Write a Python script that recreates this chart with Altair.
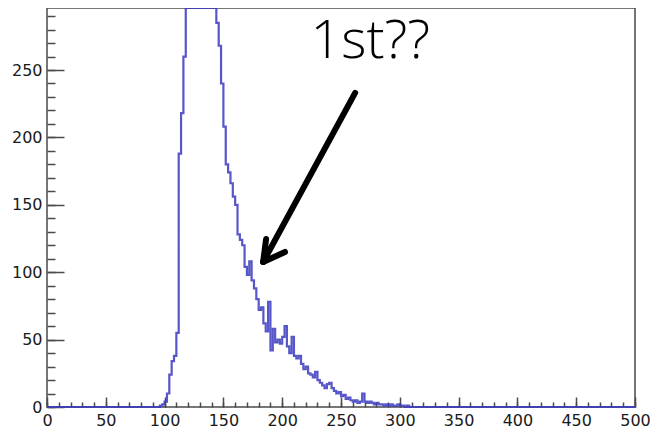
import altair as alt
import numpy as np
import pandas as pd

# ---- data ----
BIN_WIDTH = 2
X_RANGE = [0, 500]
Y_RANGE = [0, 296]
FIRST_BIN = 96
counts = [1, 2, 4, 10, 24, 34, 38, 55, 188, 218, 260,
          340, 400, 460, 500, 520, 530, 520, 500, 470, 430, 390, 350, 310,
          285, 268, 240, 208, 180, 174, 166, 156, 150, 128, 124, 120,
          104, 98, 108, 94, 88, 80, 72, 74, 62, 56, 78, 42, 58, 48,
          50, 47, 52, 60, 45, 40, 52, 38, 36, 38, 32, 28, 30, 25,
          24, 22, 26, 20, 18, 16, 14, 17, 18, 14, 12, 10, 11, 8,
          9, 6, 7, 5, 4, 5, 3, 4, 10, 4, 3, 4, 3, 2, 3, 2,
          2, 1, 2, 1, 2, 1, 1, 2, 1, 1, 0, 1]

x_major_ticks = list(range(0, 501, 50))
x_minor_ticks = list(range(0, 501, 10))
y_major_ticks = list(range(0, 251, 50))
y_minor_ticks = list(range(0, 291, 10))

annot_text = "1st??"
annot_text_pos = [224.0, 259.0]
# arrow segments in data coordinates: shaft, two head arms
arrow_x = [262.0, 183.8, 183.8]
arrow_y = [233.0, 107.6, 107.6]
arrow_x2 = [183.8, 186.3, 202.4]
arrow_y2 = [107.6, 124.6, 115.0]

# ---- build tables ----
edges = np.arange(X_RANGE[0], X_RANGE[1] + BIN_WIDTH, BIN_WIDTH)
vals = np.zeros(len(edges))
start = (FIRST_BIN - X_RANGE[0]) // BIN_WIDTH
vals[start:start + len(counts)] = counts
hist_df = pd.DataFrame({"x": edges, "count": vals})

arrow_df = pd.DataFrame({"x": arrow_x, "y": arrow_y, "x2": arrow_x2, "y2": arrow_y2})
text_df = pd.DataFrame({"x": [annot_text_pos[0]], "y": [annot_text_pos[1]], "t": [annot_text]})

W, H = 588, 399
LABEL_FONT = "DejaVu Sans"
TICK_COLOR = "#4a4a4a"

xs = alt.Scale(domain=X_RANGE, nice=False, zero=False)
ys = alt.Scale(domain=Y_RANGE, nice=False, clamp=True)

x_major = alt.Axis(orient="bottom", values=x_major_ticks, tickSize=10, offset=-10,
                   domain=False, grid=False, labelPadding=5, labelFont=LABEL_FONT,
                   labelFontSize=16, labelColor="#1a1a1a", tickColor=TICK_COLOR,
                   tickWidth=1.5, title=None, labelFlush=False, labelOverlap=False)
x_minor = alt.Axis(orient="bottom", values=x_minor_ticks, tickSize=5, offset=-5,
                   domain=False, grid=False, labels=False, tickColor=TICK_COLOR,
                   tickWidth=1.5, title=None)
y_major = alt.Axis(orient="left", values=y_major_ticks, tickSize=17, offset=-17,
                   domain=False, grid=False, labelPadding=5, labelFont=LABEL_FONT,
                   labelFontSize=16, labelColor="#1a1a1a", tickColor=TICK_COLOR,
                   tickWidth=1.5, title=None, labelFlush=False, labelOverlap=False)
y_minor = alt.Axis(orient="left", values=y_minor_ticks, tickSize=8, offset=-8,
                   domain=False, grid=False, labels=False, tickColor=TICK_COLOR,
                   tickWidth=1.5, title=None)

hist = alt.Chart(hist_df).mark_line(
    interpolate="step-after", color="#3a3abf", strokeWidth=2.2, opacity=0.85
).encode(
    x=alt.X("x:Q", scale=xs, axis=x_major),
    y=alt.Y("count:Q", scale=ys, axis=y_major),
)

arrow = alt.Chart(arrow_df).mark_rule(color="black", strokeWidth=6, strokeCap="round").encode(
    x=alt.X("x:Q", scale=xs, axis=x_minor),
    y=alt.Y("y:Q", scale=ys, axis=y_minor),
    x2="x2:Q",
    y2="y2:Q",
)

label = alt.Chart(text_df).mark_text(
    font="Open Sans", fontSize=54, fontWeight=300, align="left", baseline="alphabetic",
    color="black"
).encode(
    x=alt.X("x:Q", scale=xs, axis=None),
    y=alt.Y("y:Q", scale=ys, axis=None),
    text="t:N",
)

chart = alt.layer(hist, arrow, label).resolve_axis(
    x="independent", y="independent"
).properties(
    width=W, height=H,
    autosize=alt.AutoSizeParams(type="none"),
    padding={"left": 39, "top": 0, "right": 15, "bottom": 26},
    background="white",
).configure_view(stroke="#4a4a4a", strokeWidth=1.5)

chart.save("out.html", embed_options={"renderer": "svg", "actions": False})
